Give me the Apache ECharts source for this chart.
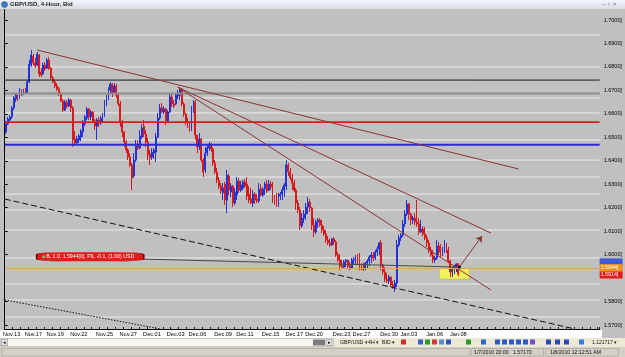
<!DOCTYPE html>
<html><head><meta charset="utf-8">
<script src="https://cdn.jsdelivr.net/npm/echarts@6/dist/echarts.min.js"></script>
<style>html,body{margin:0;padding:0;background:#c0c0c0}#c{width:625px;height:357px}</style>
</head><body><div id="c"></div>
<script>
// ---- data ----
const tickLabels = ['Nov.13','Nov.17','Nov.19','Nov.22','Nov.25','Nov.27','Dec.01','Dec.03','Dec.06','Dec.09','Dec.11','Dec.15','Dec.17','Dec.20','Dec.23','Dec.27','Dec.30','Jan.03','Jan.06','Jan.08'];
const tickIndex = [3,14,25,37,50,62,74,86,97,110,121,134,146,156,170,180,194,204,217,229];
const slotCount = 301;

const opens = [1.6523,1.6557,1.6574,1.6587,1.6625,1.6663,1.6680,1.6668,1.6702,1.6685,
1.6702,1.6689,1.6736,1.6808,1.6847,1.6817,1.6808,1.6851,1.6778,1.6770,
1.6808,1.6795,1.6830,1.6795,1.6753,1.6736,1.6719,1.6706,1.6685,1.6655,
1.6616,1.6650,1.6633,1.6659,1.6625,1.6493,1.6476,1.6489,1.6501,1.6523,
1.6557,1.6582,1.6621,1.6587,1.6608,1.6570,1.6548,1.6574,1.6561,1.6578,
1.6595,1.6642,1.6668,1.6702,1.6727,1.6689,1.6719,1.6680,1.6642,1.6565,
1.6523,1.6480,1.6446,1.6416,1.6382,1.6335,1.6403,1.6463,1.6454,1.6501,
1.6548,1.6514,1.6480,1.6429,1.6416,1.6433,1.6437,1.6501,1.6582,1.6625,
1.6608,1.6621,1.6570,1.6608,1.6672,1.6642,1.6642,1.6676,1.6680,1.6706,
1.6642,1.6599,1.6565,1.6544,1.6531,1.6616,1.6650,1.6510,1.6459,1.6493,
1.6403,1.6361,1.6433,1.6454,1.6471,1.6450,1.6391,1.6352,1.6318,1.6292,
1.6263,1.6301,1.6233,1.6335,1.6267,1.6292,1.6220,1.6254,1.6314,1.6275,
1.6284,1.6310,1.6301,1.6258,1.6237,1.6220,1.6258,1.6237,1.6229,1.6280,
1.6254,1.6280,1.6301,1.6275,1.6301,1.6292,1.6233,1.6220,1.6207,1.6250,
1.6258,1.6275,1.6292,1.6382,1.6352,1.6327,1.6305,1.6275,1.6220,1.6190,
1.6122,1.6156,1.6173,1.6203,1.6224,1.6199,1.6126,1.6096,1.6139,1.6148,
1.6126,1.6105,1.6088,1.6062,1.6050,1.6041,1.6067,1.6054,1.5998,1.5977,
1.5952,1.5947,1.5969,1.5977,1.5952,1.5943,1.5977,1.5981,1.5990,1.5969,
1.5947,1.5943,1.5939,1.5964,1.5973,1.5990,1.5998,1.5986,1.6011,1.6024,
1.6050,1.5956,1.5926,1.5896,1.5888,1.5905,1.5871,1.5862,1.5879,1.6041,
1.6071,1.6084,1.6131,1.6173,1.6216,1.6173,1.6148,1.6156,1.6139,1.6131,
1.6096,1.6109,1.6088,1.6071,1.6050,1.6020,1.5998,1.5977,1.5986,1.6037,
1.6011,1.6003,1.6020,1.6045,1.6020,1.5973,1.5926,1.5939,1.5947,1.5960];
const closes = [1.6557,1.6578,1.6587,1.6625,1.6668,1.6680,1.6663,1.6702,1.6685,1.6697,
1.6689,1.6736,1.6812,1.6851,1.6817,1.6804,1.6855,1.6770,1.6766,1.6808,
1.6791,1.6830,1.6795,1.6753,1.6736,1.6719,1.6706,1.6685,1.6655,1.6616,
1.6650,1.6633,1.6659,1.6625,1.6489,1.6476,1.6493,1.6506,1.6527,1.6561,
1.6587,1.6621,1.6587,1.6608,1.6570,1.6548,1.6574,1.6561,1.6582,1.6595,
1.6642,1.6672,1.6706,1.6727,1.6685,1.6719,1.6680,1.6642,1.6565,1.6523,
1.6480,1.6446,1.6416,1.6382,1.6327,1.6403,1.6463,1.6454,1.6506,1.6540,
1.6514,1.6480,1.6425,1.6412,1.6437,1.6446,1.6501,1.6582,1.6625,1.6608,
1.6621,1.6570,1.6608,1.6672,1.6642,1.6633,1.6680,1.6689,1.6706,1.6642,
1.6599,1.6565,1.6544,1.6531,1.6616,1.6650,1.6510,1.6459,1.6493,1.6403,
1.6352,1.6433,1.6454,1.6471,1.6450,1.6391,1.6352,1.6318,1.6292,1.6271,
1.6284,1.6233,1.6339,1.6275,1.6292,1.6220,1.6267,1.6314,1.6275,1.6297,
1.6310,1.6292,1.6250,1.6233,1.6220,1.6258,1.6233,1.6229,1.6280,1.6254,
1.6280,1.6301,1.6271,1.6301,1.6288,1.6233,1.6220,1.6207,1.6254,1.6258,
1.6275,1.6297,1.6382,1.6352,1.6327,1.6305,1.6275,1.6220,1.6190,1.6122,
1.6156,1.6173,1.6203,1.6224,1.6199,1.6126,1.6096,1.6139,1.6148,1.6126,
1.6105,1.6088,1.6062,1.6050,1.6041,1.6067,1.6054,1.5998,1.5977,1.5952,
1.5947,1.5969,1.5977,1.5952,1.5943,1.5977,1.5981,1.5990,1.5969,1.5947,
1.5943,1.5939,1.5964,1.5973,1.5990,1.5998,1.5986,1.6011,1.6024,1.6050,
1.5956,1.5926,1.5896,1.5888,1.5905,1.5871,1.5862,1.5879,1.6041,1.6071,
1.6084,1.6131,1.6173,1.6216,1.6173,1.6148,1.6156,1.6139,1.6131,1.6096,
1.6109,1.6088,1.6071,1.6050,1.6020,1.5998,1.5977,1.5986,1.6037,1.6011,
1.6003,1.6020,1.6045,1.6020,1.5973,1.5926,1.5939,1.5947,1.5960,1.5917];
const lows = [1.6514,1.6552,1.6565,1.6578,1.6616,1.6650,1.6655,1.6663,1.6676,1.6680,
1.6685,1.6685,1.6731,1.6800,1.6808,1.6795,1.6804,1.6757,1.6757,1.6766,
1.6783,1.6791,1.6787,1.6744,1.6731,1.6710,1.6697,1.6676,1.6650,1.6608,
1.6612,1.6625,1.6629,1.6608,1.6459,1.6463,1.6467,1.6476,1.6484,1.6501,
1.6548,1.6574,1.6574,1.6574,1.6561,1.6531,1.6489,1.6544,1.6552,1.6565,
1.6587,1.6633,1.6659,1.6689,1.6672,1.6685,1.6668,1.6633,1.6544,1.6501,
1.6459,1.6433,1.6403,1.6373,1.6275,1.6327,1.6395,1.6446,1.6450,1.6493,
1.6501,1.6459,1.6403,1.6382,1.6403,1.6408,1.6395,1.6497,1.6574,1.6604,
1.6599,1.6552,1.6561,1.6604,1.6629,1.6625,1.6638,1.6663,1.6659,1.6633,
1.6587,1.6552,1.6540,1.6523,1.6527,1.6604,1.6489,1.6433,1.6446,1.6395,
1.6331,1.6348,1.6420,1.6442,1.6437,1.6378,1.6344,1.6305,1.6280,1.6258,
1.6233,1.6212,1.6177,1.6254,1.6246,1.6203,1.6212,1.6233,1.6263,1.6267,
1.6275,1.6284,1.6233,1.6220,1.6216,1.6203,1.6216,1.6220,1.6220,1.6250,
1.6246,1.6254,1.6263,1.6271,1.6275,1.6220,1.6212,1.6203,1.6203,1.6233,
1.6233,1.6246,1.6275,1.6335,1.6318,1.6275,1.6267,1.6190,1.6177,1.6105,
1.6114,1.6135,1.6148,1.6173,1.6182,1.6105,1.6075,1.6088,1.6114,1.6118,
1.6092,1.6079,1.6050,1.6041,1.6033,1.6037,1.6041,1.5990,1.5969,1.5934,
1.5943,1.5943,1.5947,1.5943,1.5934,1.5939,1.5956,1.5960,1.5956,1.5934,
1.5934,1.5930,1.5934,1.5943,1.5952,1.5964,1.5973,1.5977,1.5994,1.5998,
1.5934,1.5913,1.5883,1.5879,1.5875,1.5862,1.5854,1.5841,1.5862,1.6033,
1.6058,1.6075,1.6118,1.6165,1.6148,1.6126,1.6131,1.6126,1.6118,1.6084,
1.6092,1.6079,1.6062,1.6033,1.6007,1.5990,1.5964,1.5964,1.5977,1.5998,
1.5990,1.5994,1.6007,1.6007,1.5964,1.5905,1.5905,1.5917,1.5926,1.5909];
const highs = [1.6570,1.6587,1.6595,1.6633,1.6676,1.6689,1.6689,1.6710,1.6706,1.6706,
1.6710,1.6744,1.6830,1.6872,1.6855,1.6838,1.6864,1.6855,1.6795,1.6817,
1.6821,1.6838,1.6842,1.6800,1.6761,1.6744,1.6731,1.6714,1.6693,1.6663,
1.6659,1.6659,1.6668,1.6663,1.6633,1.6527,1.6506,1.6514,1.6535,1.6574,
1.6595,1.6629,1.6625,1.6616,1.6612,1.6578,1.6582,1.6587,1.6591,1.6604,
1.6659,1.6680,1.6714,1.6736,1.6731,1.6731,1.6727,1.6689,1.6655,1.6574,
1.6527,1.6489,1.6454,1.6433,1.6391,1.6433,1.6489,1.6489,1.6531,1.6557,
1.6574,1.6531,1.6497,1.6446,1.6454,1.6454,1.6518,1.6604,1.6642,1.6646,
1.6633,1.6625,1.6616,1.6689,1.6689,1.6659,1.6689,1.6702,1.6714,1.6710,
1.6650,1.6604,1.6582,1.6570,1.6633,1.6659,1.6659,1.6510,1.6518,1.6497,
1.6412,1.6459,1.6471,1.6480,1.6476,1.6459,1.6403,1.6369,1.6331,1.6305,
1.6305,1.6310,1.6361,1.6344,1.6305,1.6297,1.6284,1.6331,1.6327,1.6314,
1.6318,1.6322,1.6331,1.6292,1.6284,1.6275,1.6267,1.6258,1.6305,1.6301,
1.6288,1.6310,1.6318,1.6318,1.6314,1.6310,1.6254,1.6263,1.6263,1.6267,
1.6288,1.6305,1.6403,1.6391,1.6369,1.6344,1.6318,1.6284,1.6233,1.6203,
1.6177,1.6190,1.6220,1.6246,1.6237,1.6203,1.6156,1.6148,1.6156,1.6156,
1.6148,1.6122,1.6105,1.6079,1.6067,1.6071,1.6075,1.6062,1.6011,1.6003,
1.5977,1.5977,1.5981,1.5977,1.5969,1.5986,1.5990,1.5998,1.6003,1.6007,
1.5964,1.5964,1.5969,1.5981,1.5998,1.6011,1.6011,1.6020,1.6037,1.6054,
1.6062,1.5960,1.5947,1.5922,1.5913,1.5905,1.5888,1.5892,1.6062,1.6084,
1.6092,1.6148,1.6190,1.6233,1.6220,1.6177,1.6165,1.6177,1.6233,1.6156,
1.6148,1.6122,1.6118,1.6084,1.6062,1.6033,1.6020,1.5994,1.6062,1.6054,
1.6045,1.6033,1.6062,1.6050,1.6033,1.5977,1.5947,1.5956,1.5964,1.5964];

const priceTicks = [1.57,1.58,1.60,1.61,1.62,1.63,1.64,1.65,1.66,1.67,1.68,1.69,1.70];
const guideLevels = [1.6936,1.6800,1.6668,1.6604,1.6489,1.6403,1.6331,1.6258,1.6190,1.6105,1.5986,1.5875,1.5807,1.5734];
const blackLevel = 1.6744;
const grayLevel = 1.6687;
const redLevel = 1.6565;
const blueLevel = 1.6468;
const entryPrice = 1.5944;
const currentPrice = 1.5914;
const askPrice = 1.5968;
// trend lines: [barPosition, price] pairs
const trendLong = [[16.5,1.6872],[260,1.6365]];
const trendMid = [[87.5,1.6714],[246,1.6092]];
const trendSteep = [[87.5,1.6714],[246,1.5849]];
const channelDashed = [[0,1.6237],[288.5,1.5683]];
const channelDotted = [[0,1.5807],[79,1.5683]];
const orderLink = [[70,1.5981],[229,1.5947]];
const arrowPath = [[230,1.5947],[241.5,1.6079]];
const targetBox = [[220,1.5943],[235,1.5896]];
const tradeLabel = 'B, 1.0, 1.5944[0], P/L -0.1, (1.00) USD';
const labelAnchor = [43.25,1.5991];

// ---- build ----
const categories = [];
for (let i = 0; i < slotCount; i++) {
  const k = tickIndex.indexOf(i);
  categories.push(k >= 0 ? tickLabels[k] : '');
}
const candles = opens.map((o, i) => [o, closes[i], lows[i], highs[i]]);
const FONT = 'Liberation Sans';
const CLEAR = 'rgba(0,0,0,0)';

function hline(v, color, width, z) {
  return {type:'line', xAxisIndex:1, yAxisIndex:0, data:[[0,v],[slotCount,v]], symbol:'none', silent:true, z:z,
    lineStyle:{color:color, width:width}};
}
function seg(pts, color, width, type, z) {
  return {type:'line', xAxisIndex:1, yAxisIndex:0, data:pts, symbol:'none', silent:true, z:z,
    lineStyle:{color:color, width:width, type:type}};
}
function tag(v, text, textColor, bg, lineColor) {
  return {yAxis:v, lineStyle:{color:lineColor, width:1, type:'solid', opacity:1},
    label:{show:true, position:'end', distance:0, formatter:text, color:textColor, fontSize:5.3, fontFamily:FONT,
      width:21, overflow:'truncate', ellipsis:'', backgroundColor:bg, padding:[1.2,1], opacity:1}};
}

const series = [];
guideLevels.forEach(v => series.push(hline(v, '#ececec', 1, 1)));
series.push({type:'line', xAxisIndex:1, yAxisIndex:0, data:[targetBox[0]], symbol:'none', z:1, silent:true,
  markArea:{silent:true, precision:4, itemStyle:{color:'#f2f25a', borderColor:'#c0c040', borderWidth:0.6},
    data:[[{coord:targetBox[0]},{coord:targetBox[1]}]]}});
series.push({type:'candlestick', xAxisIndex:0, yAxisIndex:0, data:candles, barWidth:1.4, z:2, silent:true,
  itemStyle:{color:'#2333d6', color0:'#d81a1a', borderColor:'#2333d6', borderColor0:'#d81a1a', borderWidth:1}});
series.push(hline(blackLevel, '#1a1a1a', 1, 3));
series.push(hline(grayLevel, '#8c8c8c', 2, 3));
series.push(hline(redLevel, '#e01c1c', 1.6, 3));
series.push(hline(blueLevel, '#2b2bd6', 2, 3));
series.push(seg(trendLong, '#8c3434', 1, 'solid', 3));
series.push(seg(trendMid, '#8c3434', 1, 'solid', 3));
series.push(seg(trendSteep, '#8c3434', 1, 'solid', 3));
series.push(seg(channelDashed, '#111', 1, [6,3], 3));
series.push(seg(channelDotted, '#111', 1, [1.5,1.5], 3));
// price tags on the right axis
series.push({type:'line', xAxisIndex:1, yAxisIndex:0, data:[[0,entryPrice]], symbol:'none', z:4, silent:true,
  markLine:{silent:true, symbol:'none', precision:4, data:[
    tag(askPrice, askPrice.toFixed(4)+'[0]', '#3b5bd8', '#3b5bd8', CLEAR),
    tag(currentPrice, currentPrice.toFixed(4)+'[0]', '#fff', '#e81818', CLEAR),
    tag(entryPrice, entryPrice.toFixed(4)+'[0]', '#fff', '#f0901e', '#e8a060')
  ]}});
const orderSeries = seg(orderLink, '#4a4a4a', 1, 'solid', 4);
orderSeries.markPoint = {silent:true, precision:4, data:[
  {coord:labelAnchor, symbol:'roundRect', symbolSize:[107,9],
   itemStyle:{color:'#e41b1b', borderColor:'#7a0000', borderWidth:0.5},
   label:{show:true, position:'inside', formatter:tradeLabel, color:'#fff', fontSize:5.2, fontFamily:FONT}},
  {coord:[labelAnchor[0]-23.5, labelAnchor[1]], symbol:'circle', symbolSize:3, itemStyle:{color:'#5fcf5f'}, label:{show:false}},
  {coord:arrowPath[0], symbol:'circle', symbolSize:3, itemStyle:{color:'#000'}, label:{show:false}}
]};
orderSeries.markLine = {silent:true, precision:4, symbol:['none','arrow'], symbolSize:6,
  lineStyle:{color:'#8c3434', width:1, type:'solid'}, label:{show:false},
  data:[[{coord:arrowPath[0]},{coord:arrowPath[1]}]]};
series.push(orderSeries);

const G = [];
// title bar
G.push({type:'rect', shape:{x:0,y:0,width:625,height:9}, z:100, style:{fill:new echarts.graphic.LinearGradient(0,0,0,1,[{offset:0,color:'#f4f6fa'},{offset:1,color:'#d6dce6'}])}});
G.push({type:'circle', shape:{cx:4.5,cy:4.5,r:3}, z:101, style:{fill:'#3d7cc9', stroke:'#1d4c89', lineWidth:0.5}});
G.push({type:'text', x:10, y:4.6, z:101, style:{text:'GBP/USD, 4-Hour, Bid', fontSize:6, fontWeight:'bold', fontFamily:FONT, fill:'#222', verticalAlign:'middle'}});
G.push({type:'text', x:602, y:4.5, z:101, style:{text:'–  ▫  ×', fontSize:5.5, fontFamily:FONT, fill:'#666', verticalAlign:'middle'}});
// x label row
G.push({type:'rect', shape:{x:0,y:330,width:602,height:8}, z:1, style:{fill:'#ffffff'}});
// scrollbar / toolbar row
G.push({type:'rect', shape:{x:0,y:338,width:625,height:9}, z:100, style:{fill:'#ece9d8'}});
G.push({type:'rect', shape:{x:0.5,y:338.5,width:333,height:8}, z:101, style:{fill:'#f6f5f0', stroke:'#9c9c9c', lineWidth:0.5}});
G.push({type:'rect', shape:{x:1.5,y:339.5,width:6,height:6}, z:102, style:{fill:'#e4e4e4', stroke:'#777', lineWidth:0.5}});
G.push({type:'text', x:3, y:342.5, z:103, style:{text:'◂', fontSize:5, fill:'#000', verticalAlign:'middle'}});
G.push({type:'rect', shape:{x:313,y:339.5,width:12,height:6}, z:102, style:{fill:'#7c7c7c'}});
G.push({type:'rect', shape:{x:326,y:339.5,width:6,height:6}, z:102, style:{fill:'#e4e4e4', stroke:'#777', lineWidth:0.5}});
G.push({type:'text', x:327.5, y:342.5, z:103, style:{text:'▸', fontSize:5, fill:'#000', verticalAlign:'middle'}});
const tb = [['GBP/USD ▾',340],['4H ▾',368],['BID ▾',382]];
tb.forEach(t => G.push({type:'text', x:t[1], y:342.6, z:103, style:{text:t[0], fontSize:5.2, fontFamily:FONT, fill:'#111', verticalAlign:'middle'}}));
const icons = [[401,'#d42a2a'],[418,'#3a62c8'],[425,'#2aa02a'],[432,'#d43a3a'],[439,'#5a8ad8'],[446,'#2a5ab8'],[466,'#2a9a2a'],[481,'#2a6ac8'],[495,'#2a5ac8'],[502,'#2a5ac8'],[509,'#2a5ac8'],[516,'#2a5ac8'],[523,'#2a5ac8'],[530,'#7a4ac8'],[546,'#2a4ab8'],[555,'#2a4ab8'],[564,'#2a4ab8'],[579,'#3a7ad8']];
icons.forEach(ic => G.push({type:'rect', shape:{x:ic[0],y:339.5,width:5,height:5}, z:103, style:{fill:ic[1]}}));
G.push({type:'text', x:592, y:342.6, z:103, style:{text:'1.121717 ▾', fontSize:5, fontFamily:FONT, fill:'#111', verticalAlign:'middle'}});
// status bar
G.push({type:'rect', shape:{x:0,y:347,width:625,height:10}, z:100, style:{fill:'#d4d0c8'}});
G.push({type:'rect', shape:{x:1.5,y:348.5,width:468,height:7.5}, z:101, style:{fill:'#d4d0c8', stroke:'#9a978f', lineWidth:0.5}});
G.push({type:'rect', shape:{x:471.5,y:348.5,width:72,height:7.5}, z:101, style:{fill:'#d4d0c8', stroke:'#9a978f', lineWidth:0.5}});
G.push({type:'rect', shape:{x:545.5,y:348.5,width:73,height:7.5}, z:101, style:{fill:'#d4d0c8', stroke:'#9a978f', lineWidth:0.5}});
G.push({type:'text', x:474, y:352.4, z:102, style:{text:'1/7/2010 20:00   1.57170', fontSize:5.2, fontFamily:FONT, fill:'#111', verticalAlign:'middle'}});
G.push({type:'text', x:550, y:352.4, z:102, style:{text:'1/8/2010 12:12:51 AM', fontSize:5.2, fontFamily:FONT, fill:'#111', verticalAlign:'middle'}});

const chart = echarts.init(document.getElementById('c'), null, {renderer:'canvas', width:625, height:357});
chart.setOption({
  animation:false,
  backgroundColor:'#c0c0c0',
  textStyle:{fontFamily:FONT},
  grid:{left:0, right:23, top:9, bottom:28, containLabel:false},
  xAxis:[
    {type:'category', data:categories, boundaryGap:true, position:'bottom', z:5,
     axisLine:{lineStyle:{color:'#000', width:1}},
     axisTick:{show:true, inside:true, length:2, interval:3, lineStyle:{color:'#222'}},
     axisLabel:{interval:0, fontSize:5.6, color:'#000', margin:2.5, fontFamily:FONT},
     splitLine:{show:false}},
    {type:'value', min:0, max:slotCount, show:false}
  ],
  yAxis:[{type:'value', position:'right', min:1.5683, max:1.7047, z:5,
    axisLine:{show:true, lineStyle:{color:'#000'}},
    axisTick:{show:true, customValues:priceTicks, length:3, lineStyle:{color:'#000'}},
    axisLabel:{customValues:priceTicks, formatter:v => v.toFixed(4)+'[0]', fontSize:5.5, color:'#000', margin:4, fontFamily:FONT, width:21, overflow:'truncate', ellipsis:''},
    splitLine:{show:false}}],
  series:series,
  graphic:G
});
</script></body></html>
